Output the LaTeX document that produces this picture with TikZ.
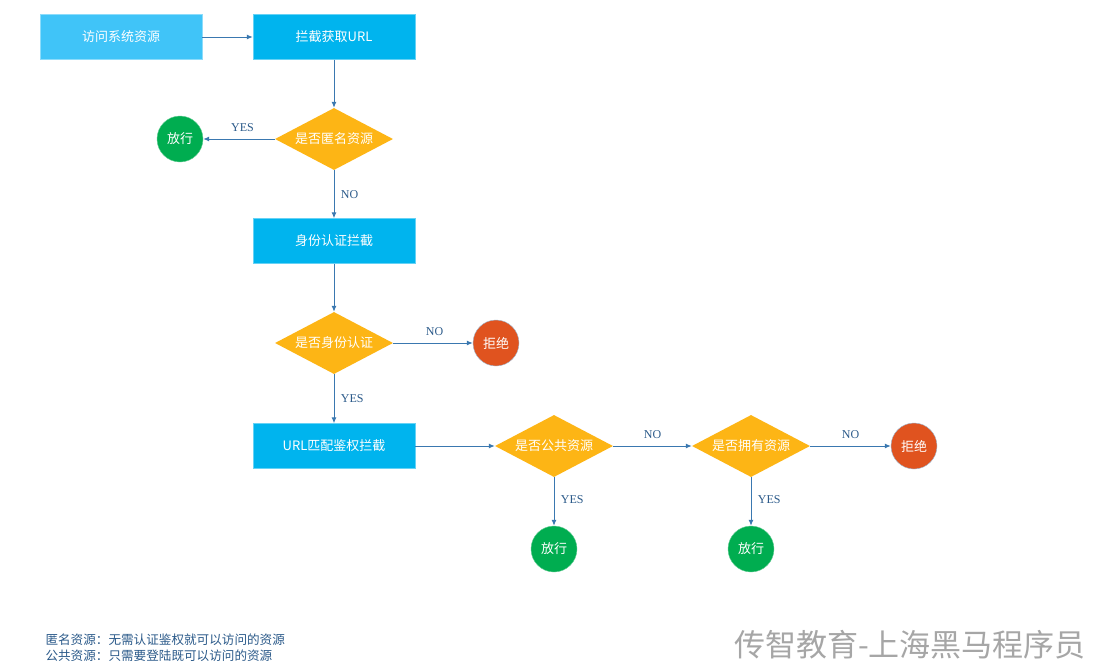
\documentclass[tikz,border=0pt]{standalone}
\usepackage{fontspec}
\setmainfont{Noto Sans CJK SC}
\newfontfamily\labelfont{Liberation Serif}
\usetikzlibrary{shapes.geometric,arrows.meta}
\definecolor{boxblue}{HTML}{00B4EE}
\definecolor{lightblue}{HTML}{40C4F8}
\definecolor{askorange}{HTML}{FDB515}
\definecolor{passgreen}{HTML}{00AD50}
\definecolor{denyred}{HTML}{E0531F}
\definecolor{linkblue}{HTML}{3A78B0}
\definecolor{notetext}{HTML}{2B5A8A}
\tikzset{
	stepbox/.style={rectangle, fill=boxblue, draw=boxblue!60, minimum width=162pt, minimum height=45pt, text=white, font=\fontsize{13}{13}\selectfont},
	askbox/.style={diamond, fill=askorange, inner sep=0pt, aspect=1.9, minimum width=118pt, minimum height=62pt, text=white, font=\fontsize{13}{13}\selectfont},
	endbox/.style={circle, minimum size=46pt, inner sep=0pt, text=white, font=\fontsize{13}{13}\selectfont},
	passbox/.style={endbox, fill=passgreen, draw=passgreen!60},
	denybox/.style={endbox, fill=denyred, draw=linkblue!50},
	link/.style={draw=linkblue, line width=1pt, -{Latex[length=6pt,width=5pt]}},
	answer/.style={text=notetext, font=\labelfont\fontsize{12}{12}\selectfont}
}
\begin{document}
\begin{tikzpicture}[x=1pt, y=-1pt]
				\useasboundingbox[fill=white] (0,0) rectangle (1093,670);
				
				\node[stepbox, fill=lightblue, draw=lightblue!60] (visit) at (121, 37) {访问系统资源};
				\node[stepbox] (geturl) at (334, 37) {拦截获取URL};
				\node[askbox] (anon) at (334, 139) {是否匿名资源};
				\node[passbox] (pass1) at (180, 139) {放行};
				\node[stepbox] (auth) at (334, 241) {身份认证拦截};
				\node[askbox] (authed) at (334, 343) {是否身份认证};
				\node[denybox] (deny1) at (496, 343) {拒绝};
				\node[stepbox] (perm) at (334, 446) {URL匹配鉴权拦截};
				\node[askbox] (public) at (554, 446) {是否公共资源};
				\node[askbox] (owned) at (751, 446) {是否拥有资源};
				\node[denybox] (deny2) at (914, 446) {拒绝};
				\node[passbox] (pass2) at (554, 549) {放行};
				\node[passbox] (pass3) at (751, 549) {放行};
				
				\draw[link] (visit) -- (geturl);
				\draw[link] (geturl) -- (anon);
				\draw[link] (anon) -- node[answer, above=4pt, pos=0.45] {YES} (pass1);
				\draw[link] (anon) -- node[answer, right=3pt, pos=0.5] {NO} (auth);
				\draw[link] (auth) -- (authed);
				\draw[link] (authed) -- node[answer, above=4pt, pos=0.52] {NO} (deny1);
				\draw[link] (authed) -- node[answer, right=3pt, pos=0.5] {YES} (perm);
				\draw[link] (perm) -- (public);
				\draw[link] (public) -- node[answer, above=4pt] {NO} (owned);
				\draw[link] (owned) -- node[answer, above=4pt] {NO} (deny2);
				\draw[link] (public) -- node[answer, right=3pt, pos=0.47] {YES} (pass2);
				\draw[link] (owned) -- node[answer, right=3pt, pos=0.47] {YES} (pass3);
				
				\node[anchor=west, text=notetext, font=\fontsize{12.6}{12.6}\selectfont] (note1) at (42, 640) {匿名资源：无需认证鉴权就可以访问的资源};
				\node[anchor=west, text=notetext, font=\fontsize{12.6}{12.6}\selectfont] (note2) at (42, 656) {公共资源：只需要登陆既可以访问的资源};
				
				\node[text=black!35, font=\fontsize{31}{31}\selectfont] (mark) at (910, 645) {传智教育-上海黑马程序员};
			\end{tikzpicture}
\end{document}
